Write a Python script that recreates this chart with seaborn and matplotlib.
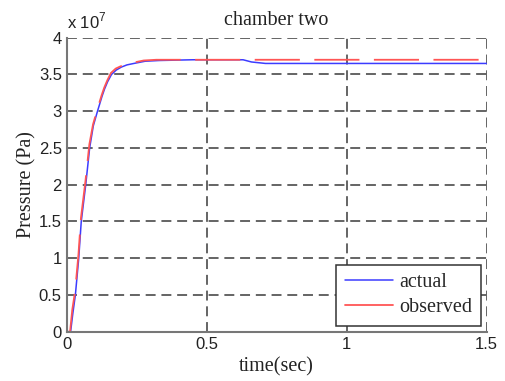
import matplotlib
matplotlib.use("Agg")
import matplotlib.pyplot as plt
from matplotlib.lines import Line2D
from matplotlib.ticker import FuncFormatter, FixedLocator
import seaborn as sns
import pandas as pd
import numpy as np

# Chamber-two pressure response (Pa) over time (s)
t_actual = [0.0, 0.014, 0.022, 0.031, 0.043, 0.052, 0.068, 0.082, 0.095, 0.110,
            0.118, 0.126, 0.135, 0.146, 0.160, 0.177, 0.195, 0.215, 0.240,
            0.280, 0.330, 0.450, 0.630, 0.660, 0.710, 1.000, 1.500]
p_actual = [0.0, 0.0, 0.25, 0.5, 1.0, 1.5, 2.0, 2.5, 2.8, 3.0,
            3.1, 3.2, 3.3, 3.4, 3.5, 3.56, 3.6, 3.63, 3.65,
            3.68, 3.69, 3.70, 3.70, 3.67, 3.65, 3.65, 3.65]

t_observed = [0.0, 0.012, 0.020, 0.030, 0.042, 0.051, 0.067, 0.081, 0.094, 0.109,
              0.117, 0.125, 0.134, 0.145, 0.158, 0.175, 0.192, 0.212, 0.236,
              0.275, 0.320, 0.400, 0.500, 0.600, 1.000, 1.500]
p_observed = [0.0, 0.0, 0.3, 0.55, 1.05, 1.55, 2.05, 2.55, 2.82, 3.02,
              3.12, 3.22, 3.32, 3.42, 3.52, 3.58, 3.61, 3.64, 3.66,
              3.69, 3.70, 3.70, 3.70, 3.70, 3.70, 3.70]

scale = 1e7
x_ticks = [0, 0.5, 1, 1.5]
y_ticks = [0, 0.5, 1, 1.5, 2, 2.5, 3, 3.5, 4]
series_names = ["actual", "observed"]

sns.set_theme(style="white")
plt.rcParams["font.family"] = ["Liberation Serif", "DejaVu Serif"]

df = pd.concat([
    pd.DataFrame({"time": t_actual, "pressure": [v * scale for v in p_actual],
                  "series": series_names[0]}),
    pd.DataFrame({"time": t_observed, "pressure": [v * scale for v in p_observed],
                  "series": series_names[1]}),
], ignore_index=True)

blue = "#3c3cff"
red = "#ff5555"
lw_obs = 1.3
dash_on, dash_off = 25.0, 8.0

fig = plt.figure(figsize=(5.06, 3.81), dpi=100)
ax = fig.add_axes([0.1318, 0.1294, 0.83, 0.7716])

sns.lineplot(data=df[df.series == "actual"], x="time", y="pressure",
             color=blue, lw=1.1, ax=ax, legend=False, sort=False)
sns.lineplot(data=df[df.series == "observed"], x="time", y="pressure",
             color=red, lw=lw_obs, ax=ax, legend=False, sort=False)
obs_line = ax.lines[-1]

ax.set_xlim(0, 1.5)
ax.set_ylim(0, 4 * scale)
ax.xaxis.set_major_locator(FixedLocator(x_ticks))
ax.yaxis.set_major_locator(FixedLocator([v * scale for v in y_ticks]))
ax.xaxis.set_major_formatter(FuncFormatter(lambda v, p: f"{v:g}"))
ax.yaxis.set_major_formatter(FuncFormatter(lambda v, p: f"{v / scale:g}"))

# phase the dashed trace so that a gap opens at t = 0.62 s
pts = ax.transData.transform(np.column_stack([t_observed,
                                              [v * scale for v in p_observed]]))
seg = np.hypot(*np.diff(pts, axis=0).T)
cum = np.concatenate([[0], np.cumsum(seg)])
gap_len_px = np.interp(0.62, t_observed, cum)
period_pt = (dash_on + dash_off) * lw_obs
offset_pt = (dash_on * lw_obs - gap_len_px * 0.72) % period_pt
obs_line.set_linestyle((offset_pt / lw_obs, (dash_on, dash_off)))
obs_line.set_dash_capstyle("butt")

grid_color = "#3a3a3a"
ax.grid(True, color=grid_color, lw=1.1, linestyle=(0, (6.5, 3.8)))
for side in ["top", "right"]:
    ax.spines[side].set_visible(False)
for side in ["left", "bottom"]:
    ax.spines[side].set_color("#777777")
    ax.spines[side].set_linewidth(1.5)

ax.tick_params(axis="both", direction="in", length=3, width=1, color="#555555",
               labelsize=12, labelcolor="#222222", pad=3.5)
for lab in ax.get_xticklabels() + ax.get_yticklabels():
    lab.set_fontfamily(["Liberation Sans", "DejaVu Sans"])

ax.set_xlabel("time(sec)", fontsize=14.5, color="#222222", labelpad=4)
ax.set_ylabel("Pressure (Pa)", fontsize=14.5, color="#222222", labelpad=1.5)
ax.set_title("chamber two", fontsize=14.5, color="#222222", pad=9)

ax.text(0.0, 1.03, r"x 10$^{\mathregular{7}}$", transform=ax.transAxes,
        ha="left", va="baseline", fontsize=12, color="#222222",
        fontfamily=["Liberation Sans", "DejaVu Sans"])

handles = [Line2D([], [], color=blue, lw=1.1),
           Line2D([], [], color=red, lw=lw_obs)]
leg = ax.legend(handles, series_names, loc="lower right",
                bbox_to_anchor=(0.986, 0.02), borderaxespad=0,
                fontsize=14.5, frameon=True, fancybox=False,
                handlelength=2.4, handletextpad=0.3, labelspacing=0.3,
                borderpad=0.42)
leg.get_frame().set_edgecolor("#333333")
leg.get_frame().set_linewidth(1.1)
leg.get_frame().set_alpha(1)

fig.savefig("out.png", dpi=100, facecolor="white")
